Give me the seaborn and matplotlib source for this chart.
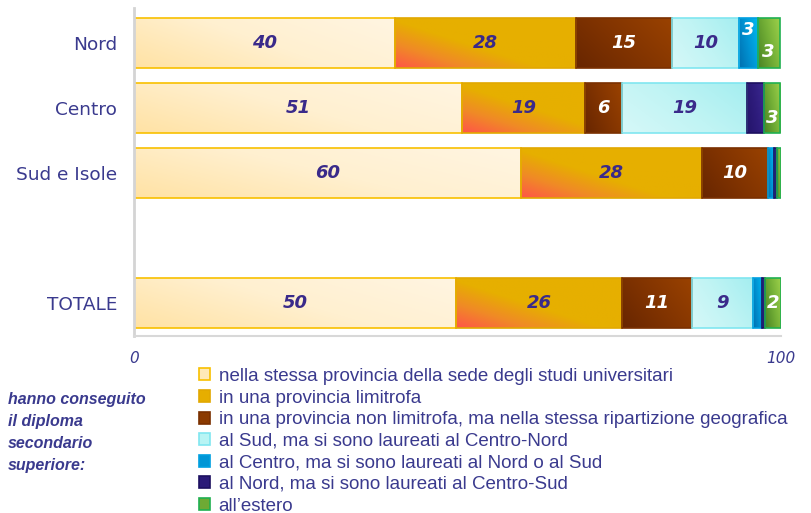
import numpy as np
import matplotlib
matplotlib.use("Agg")
import matplotlib.pyplot as plt
import matplotlib.colors as mcolors
from matplotlib.patches import Patch
import seaborn as sns

# rows (TOTALE sits one slot lower, leaving a gap)
regions = ["Nord", "Centro", "Sud e Isole", "TOTALE"]
positions = [0, 1, 2, 4]

# shares (%)
stessa = [40.3, 50.7, 59.8, 49.8]
limitrofa = [28.0, 19.0, 28.0, 25.7]
non_limitrofa = [14.8, 5.7, 10.2, 10.7]
sud_cn = [10.4, 19.3, 0.0, 9.4]
centro_ns = [2.9, 0.0, 0.9, 1.4]
nord_cs = [0.0, 2.6, 0.5, 0.6]
estero = [3.4, 2.6, 0.6, 2.4]

legend_labels = [
    "nella stessa provincia della sede degli studi universitari",
    "in una provincia limitrofa",
    "in una provincia non limitrofa, ma nella stessa ripartizione geografica",
    "al Sud, ma si sono laureati al Centro-Nord",
    "al Centro, ma si sono laureati al Nord o al Sud",
    "al Nord, ma si sono laureati al Centro-Sud",
    "all\u2019estero",
]
side_text = "hanno conseguito\nil diploma\nsecondario\nsuperiore:"

series = [stessa, limitrofa, non_limitrofa, sud_cn, centro_ns, nord_cs, estero]

# styling per series: gradient stops (bottom-left -> top-right), edge, label colour
grad = [
    ["#FFE2A4", "#FFF0D0", "#FFF5E2"],
    ["#FF5548", "#F08A26", "#E6AF00", "#E6AF00"],
    ["#682600", "#823400", "#9A4200"],
    ["#D6F8F8", "#C0F4F4", "#A4EEF0"],
    ["#0070B0", "#0094D4", "#00B8F0"],
    ["#24146A", "#2E1C7C", "#3A2890"],
    ["#4A8424", "#72AE36", "#9CD04A"],
]
edges = ["#F8C000", "#E2A800", "#7A3000", "#80E6F0", "#00A0E0", "#1C1060", "#20B050"]
flat = ["#FFE9B8", "#E6AE00", "#8B3A00", "#B8F4F4", "#0096D6", "#2A1A78", "#6EAA34"]
txt_col = ["#3A2A8A", "#3A2A8A", "white", "#3A2A8A", "white", "white", "white"]
show_label = [True, True, True, True, True, False, True]
# small vertical nudges for narrow labels (row, series) -> offset
nudge = {(0, 4): -0.2, (0, 6): 0.14, (1, 6): 0.15}

purple = "#3A3A8E"

sns.set_style("white")
plt.rcParams["font.family"] = ["DejaVu Sans"]

fig = plt.figure(figsize=(8.12, 5.13), dpi=100)
ax = fig.add_axes([134 / 812, 1 - 336 / 513, 647 / 812, 328 / 513])

groups = []
left = np.zeros(len(regions))
for k, vals in enumerate(series):
    n0 = len(ax.patches)
    sns.barplot(x=vals, y=positions, orient="h", native_scale=True, width=0.77,
                left=left.copy(), color=flat[k], errorbar=None, ax=ax)
    groups.append(ax.patches[n0:])
    left = left + np.array(vals)

ax.set_xlim(0, 100)
ax.set_ylim(4.51, -0.54)


def gradient_img(k, w_px, h_px):
    x = np.arange(w_px)[None, :]
    yb = np.arange(h_px)[::-1][:, None]  # pixels above bottom edge
    if k == 1:
        s = np.clip((x + 3.2 * yb) / 220.0, 0, 1)
    else:
        s = np.clip(0.65 * x / max(w_px - 1, 1) + 0.35 * yb / (h_px - 1), 0, 1)
    cmap = mcolors.LinearSegmentedColormap.from_list("g", grad[k])
    return cmap(s)


for k, patches in enumerate(groups):
    for p in patches:
        x0 = p.get_x()
        w = p.get_width()
        y0 = p.get_y()
        h = p.get_height()
        if w <= 0:
            p.set_visible(False)
            continue
        img = gradient_img(k, int(w * 6.47) + 2, 50)
        im = ax.imshow(img, extent=(x0, x0 + w, y0 + h, y0), origin="upper",
                       aspect="auto", zorder=1, interpolation="bilinear")
        im.set_clip_path(p)
        p.set_facecolor("none")
        p.set_edgecolor(edges[k])
        p.set_linewidth(1.2)
        p.set_zorder(2)

ax.set_xlim(0, 100)
ax.set_ylim(4.51, -0.54)

# value labels
for k, vals in enumerate(series):
    lefts = np.sum(series[:k], axis=0) if k else np.zeros(len(regions))
    for i, v in enumerate(vals):
        if not show_label[k] or v < 1.5:
            continue
        ax.text(lefts[i] + v / 2, positions[i] + nudge.get((i, k), 0),
                f"{round(v)}", ha="center", va="center",
                fontsize=13, fontweight="bold", fontstyle="italic",
                color=txt_col[k], zorder=4)

ax.set_yticks(positions, regions)
ax.set_xticks([0, 100], ["0", "100"])
ax.tick_params(axis="y", length=0, pad=12, labelsize=13.3, labelcolor=purple)
ax.tick_params(axis="x", direction="in", length=6, width=1.5, color="#D6D6D6",
               pad=11, labelsize=11, labelcolor=purple)
for lab in ax.get_xticklabels():
    lab.set_fontstyle("italic")
ax.set_xlabel("")
ax.set_ylabel("")
for s in ["top", "right"]:
    ax.spines[s].set_visible(False)
ax.spines["left"].set_color("#D4D4D4")
ax.spines["left"].set_linewidth(2)
ax.spines["bottom"].set_color("#D8D8D8")
ax.spines["bottom"].set_linewidth(1.5)

handles = [Patch(facecolor=flat[k], edgecolor=edges[k], linewidth=1.2) for k in range(7)]
fig.legend(handles, legend_labels, loc="upper left", bbox_to_anchor=(199 / 812, 1 - 368 / 513),
           frameon=False, handlelength=0.6, handleheight=0.6, handletextpad=0.45,
           labelspacing=0.245, borderaxespad=0, borderpad=0,
           prop={"family": ["Liberation Sans Narrow", "Liberation Sans"], "size": 13.5},
           labelcolor=purple)

fig.text(8 / 812, 1 - 392 / 513, side_text, ha="left", va="top", fontsize=11.5,
         fontweight="bold", fontstyle="italic", color=purple, linespacing=1.58,
         family=["Liberation Sans", "DejaVu Sans"])

fig.savefig("out.png", dpi=100)
